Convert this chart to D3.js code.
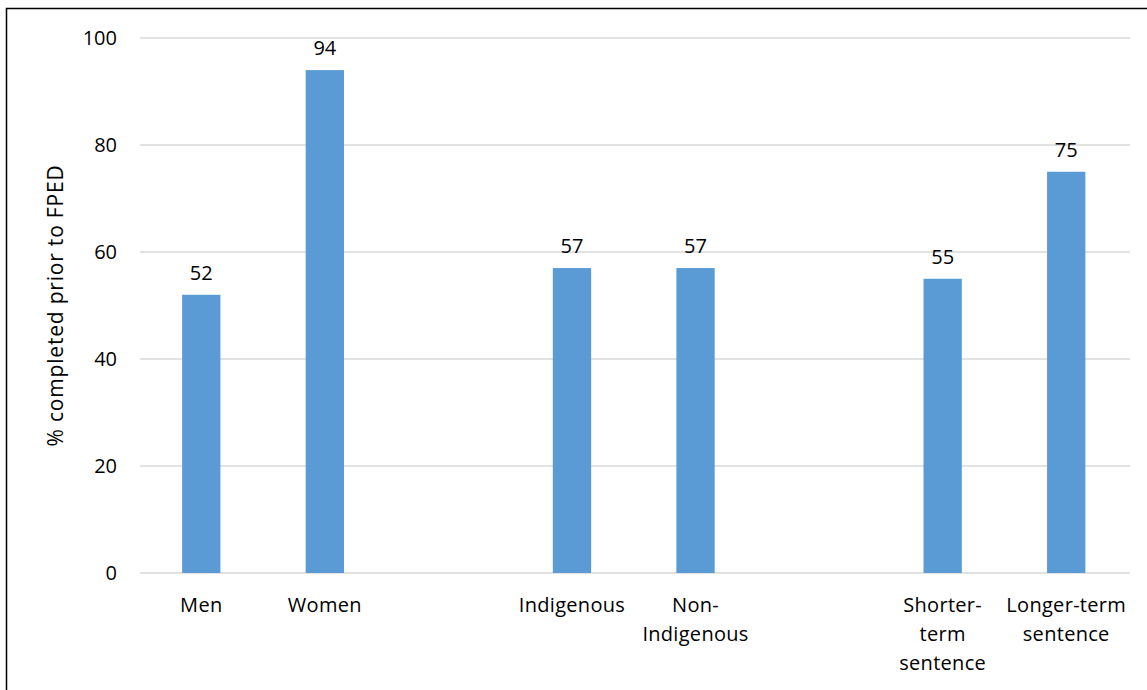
<!DOCTYPE html>
<html><head><meta charset="utf-8">
<script src="https://cdn.jsdelivr.net/npm/d3@7"></script>
<style>body{margin:0;background:#fff}svg{display:block}text{font-family:"Open Sans","Noto Sans",sans-serif;fill:#000}</style>
</head><body>
<svg id="c" width="1147" height="690"></svg>
<script>
const categories = ["Men", "Women", "", "Indigenous", "Non-Indigenous", " ", "Shorter-term sentence", "Longer-term sentence"];
const labelLines = [["Men"], ["Women"], [], ["Indigenous"], ["Non-", "Indigenous"], [], ["Shorter-", "term", "sentence"], ["Longer-term", "sentence"]];
const values = [52, 94, null, 57, 57, null, 55, 75];
const yTicks = [0, 20, 40, 60, 80, 100];
const yTitle = "% completed prior to FPED";

(function () {
const svg = d3.select("#c");
const mLeft = 139.5, mRight = 1128, mTop = 38, mBottom = 573;
const x = d3.scaleBand().domain(categories).range([mLeft, mRight]).paddingInner(0.69).paddingOuter(0.345);
const y = d3.scaleLinear().domain([0, 100]).range([mBottom, mTop]);

// border
svg.append("rect").attr("x", 6.5).attr("y", 8.5).attr("width", 1150).attr("height", 700)
  .attr("fill", "none").attr("stroke", "#000").attr("stroke-width", 1.5);

// gridlines
svg.append("g").selectAll("line").data(yTicks).join("line")
  .attr("x1", 140).attr("x2", 1130).attr("y1", d => y(d)).attr("y2", d => y(d))
  .attr("stroke", "#d9d9d9").attr("stroke-width", 1.5);

// y tick labels
svg.append("g").selectAll("text").data(yTicks).join("text")
  .attr("x", 117).attr("y", d => y(d)).attr("dy", "0.36em").attr("text-anchor", "end")
  .attr("font-size", 20).text(d => d);

const data = categories.map((c, i) => ({c, v: values[i], lines: labelLines[i]}));
const bars = data.filter(d => d.v != null);

svg.append("g").selectAll("rect").data(bars).join("rect")
  .attr("x", d => x(d.c)).attr("width", x.bandwidth())
  .attr("y", d => y(d.v)).attr("height", d => y(0) - y(d.v))
  .attr("fill", "#5b9bd5");

svg.append("g").selectAll("text").data(bars).join("text")
  .attr("x", d => x(d.c) + x.bandwidth() / 2).attr("y", d => y(d.v) - 15)
  .attr("text-anchor", "middle").attr("font-size", 20).text(d => d.v);

// category labels
const cl = svg.append("g").selectAll("text").data(data).join("text")
  .attr("text-anchor", "middle").attr("font-size", 20).attr("letter-spacing", 0.3)
  .attr("transform", d => `translate(${x(d.c) + x.bandwidth() / 2},612)`);
cl.selectAll("tspan").data(d => d.lines).join("tspan")
  .attr("x", 0).attr("y", (d, i) => i * 29).text(d => d);

// y title
svg.append("text").attr("transform", `translate(63,${(mTop + mBottom) / 2}) rotate(-90)`)
  .attr("text-anchor", "middle").attr("font-size", 21).attr("letter-spacing", 0.8).text(yTitle);
})();
</script>
</body></html>
